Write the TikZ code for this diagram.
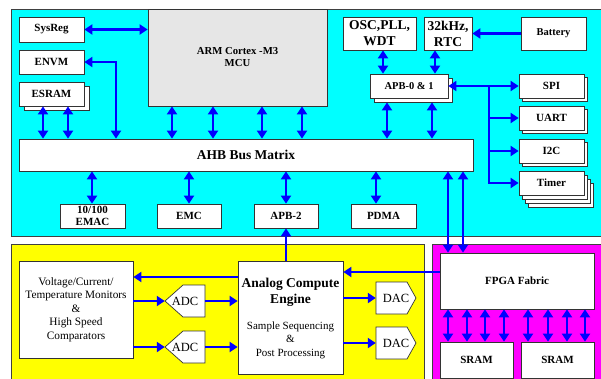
\documentclass[tikz,border=0pt]{standalone}
\usepackage{fontspec}
\setmainfont{Liberation Serif}
\usetikzlibrary{arrows.meta,shadows}
\definecolor{mssblue}{RGB}{0,255,255}
\definecolor{analogyellow}{RGB}{255,255,0}
\definecolor{fabricpink}{RGB}{255,0,255}
\definecolor{busblue}{RGB}{0,0,255}
\definecolor{mcugray}{RGB}{230,230,230}

\begin{document}
\begin{tikzpicture}[x=1pt, y=-1pt,
    >={Triangle[width=10pt,length=8pt]},
    region/.style={draw=black!75, line width=0.8pt},
    box/.style={draw=black!80, fill=white, line width=0.7pt, inner sep=0pt,
                font=\fontsize{11}{12}\selectfont\bfseries, align=center},
    stack/.style={box, copy shadow={shadow xshift=3pt, shadow yshift=-3pt, fill=white}},
    bus/.style={draw=busblue, line width=2.5pt, <->},
    link/.style={draw=busblue, line width=2.5pt, ->},
    conv/.style={draw=black!80, fill=white, line width=0.7pt},
    plain/.style={inner sep=0pt, align=center, font=\fontsize{12.5}{14}\selectfont},
]
\clip (0,0) rectangle (601,378);

% subsystem backgrounds
\draw[region, fill=mssblue] (11,9) rectangle (606,236);
\draw[region, fill=analogyellow] (11,244) rectangle (424,390);
\draw[region, fill=fabricpink] (432,244) rectangle (606,390);

% microcontroller subsystem
\node[box, fill=mcugray, minimum width=179pt, minimum height=97pt,
      font=\fontsize{10.7}{12}\selectfont\bfseries] (mcu) at (237.5,57.5) {ARM Cortex -M3\\MCU};
\node[box, minimum width=65pt, minimum height=25pt] (sysreg) at (51.5,29.5) {SysReg};
\node[box, minimum width=65pt, minimum height=24pt] (envm) at (51.5,62) {ENVM};
\node[box, minimum width=65pt, minimum height=24pt,
      copy shadow={shadow xshift=5pt, shadow yshift=-4pt, fill=white}] (esram) at (51.5,94) {ESRAM};
\node[box, minimum width=454pt, minimum height=32pt,
      font=\fontsize{13.5}{15}\selectfont\bfseries] (ahb) at (246,155) {AHB Bus Matrix};

\node[box, minimum width=65pt, minimum height=24pt] (emac) at (92.5,216) {10/100\\EMAC};
\node[box, minimum width=64pt, minimum height=24pt] (emc) at (189,216) {EMC};
\node[box, minimum width=64pt, minimum height=24pt] (apb2) at (286,216) {APB-2};
\node[box, minimum width=65pt, minimum height=24pt] (pdma) at (383.5,216) {PDMA};

\node[box, minimum width=73pt, minimum height=33pt,
      font=\fontsize{13.5}{16}\selectfont\bfseries] (osc) at (379.5,33.5) {OSC,PLL,\\WDT};
\node[box, minimum width=48pt, minimum height=33pt,
      font=\fontsize{13.5}{16}\selectfont\bfseries] (rtc) at (448,33.5) {32kHz,\\RTC};
\node[box, minimum width=65pt, minimum height=33pt,
      font=\fontsize{10.5}{12}\selectfont\bfseries] (bat) at (553.5,33.5) {Battery};
\node[box, minimum width=78pt, minimum height=24pt,
      copy shadow={shadow xshift=4pt, shadow yshift=-4pt, fill=white},
      font=\fontsize{10.5}{12}\selectfont\bfseries] (apb01) at (409,86) {APB-0 \& 1};

\node[stack, minimum width=65pt, minimum height=24pt] (spi) at (551.5,86) {SPI};
\node[stack, minimum width=65pt, minimum height=24pt] (uart) at (551.5,118) {UART};
\node[stack, minimum width=65pt, minimum height=24pt] (i2c) at (551.5,151) {I2C};
\node[box, minimum width=65pt, minimum height=24pt,
      copy shadow={shadow xshift=9pt, shadow yshift=-12pt, fill=white},
      copy shadow={shadow xshift=6pt, shadow yshift=-8pt, fill=white},
      copy shadow={shadow xshift=3pt, shadow yshift=-4pt, fill=white}] (timer) at (551.5,183) {Timer};

% analog subsystem
\node[box, minimum width=114pt, minimum height=97pt,
      font=\fontsize{11.3}{13.5}\selectfont\mdseries] (mon) at (76,309.5)
    {Voltage/Current/\\Temperature Monitors\\\&\\High Speed\\Comparators};
\node[box, minimum width=105pt, minimum height=113pt,
      font=\fontsize{11}{13.5}\selectfont\mdseries] (ace) at (290.5,318)
    {\fontsize{13.5}{17}\selectfont\bfseries Analog Compute\\[3pt]
     \fontsize{13.5}{17}\selectfont\bfseries Engine\\[12pt]
     Sample Sequencing\\\&\\Post Processing};

\draw[conv] (165,301) -- (183,285) -- (205,285) -- (205,317) -- (183,317) -- cycle;
\draw[conv] (165,347) -- (183,331) -- (205,331) -- (205,363) -- (183,363) -- cycle;
\node[plain, minimum width=40pt, minimum height=32pt] (adc1) at (185,301) {ADC};
\node[plain, minimum width=40pt, minimum height=32pt] (adc2) at (185,347) {ADC};

\draw[conv] (376,282) -- (407,282) -- (416,298) -- (407,314) -- (376,314) -- cycle;
\draw[conv] (376,327) -- (407,327) -- (416,343) -- (407,359) -- (376,359) -- cycle;
\node[plain, minimum width=40pt, minimum height=32pt] (dac1) at (396,298) {DAC};
\node[plain, minimum width=40pt, minimum height=32pt] (dac2) at (396,343) {DAC};

% fpga subsystem
\node[box, minimum width=154pt, minimum height=56pt] (fpga) at (517,281) {FPGA Fabric};
\node[box, minimum width=73pt, minimum height=36pt] (sram1) at (476.5,360) {SRAM};
\node[box, minimum width=73pt, minimum height=36pt] (sram2) at (557.5,360) {SRAM};

% buses
\draw[bus] (sysreg.east) -- (mcu.west |- sysreg.east);
\draw[bus] (envm.east) -| (ahb.north -| 116,0);
\foreach \x in {43,68} \draw[bus] (esram.south -| \x,0) -- (ahb.north -| \x,0);
\foreach \x in {172,213,262,302} \draw[bus] (mcu.south -| \x,0) -- (ahb.north -| \x,0);

\draw[bus] (osc.south -| 383,0) -- (apb01.north -| 383,0);
\draw[bus] (rtc.south -| 435,0) -- (apb01.north -| 435,0);
\draw[link] (bat.west) -- (rtc.east);
\foreach \x in {387,432} \draw[bus] ([yshift=-4pt]apb01.south -| \x,0) -- (ahb.north -| \x,0);

\coordinate (tap) at (489,86);
\draw[bus] (apb01.east) -- (spi.west);
\foreach \p in {uart,i2c,timer} \draw[link] (tap) |- (\p.west);

\foreach \x/\n in {92/emac,189/emc,286/apb2,376/pdma}
    \draw[bus] (ahb.south -| \x,0) -- (\n.north -| \x,0);

\foreach \x in {448,463} \draw[bus] (ahb.south -| \x,0) -- (fpga.north -| \x,0);
\foreach \x in {448,467,485,504} \draw[bus] (fpga.south -| \x,0) -- (sram1.north -| \x,0);
\foreach \x in {528,548,567,585} \draw[bus] (fpga.south -| \x,0) -- (sram2.north -| \x,0);

\draw[link] (ace.north -| apb2.south) -- (apb2.south);
\draw[link] (ace.west |- 0,277) -- (mon.east |- 0,277);
\draw[link] (fpga.west |- 0,272) -- (ace.east |- 0,272);
\draw[link] (mon.east |- adc1.west) -- (adc1.west);
\draw[link] (mon.east |- adc2.west) -- (adc2.west);
\draw[link] (adc1.east) -- (ace.west |- adc1.east);
\draw[link] (adc2.east) -- (ace.west |- adc2.east);
\draw[link] (ace.east |- dac1.west) -- (dac1.west);
\draw[link] (ace.east |- dac2.west) -- (dac2.west);
\end{tikzpicture}
\end{document}
